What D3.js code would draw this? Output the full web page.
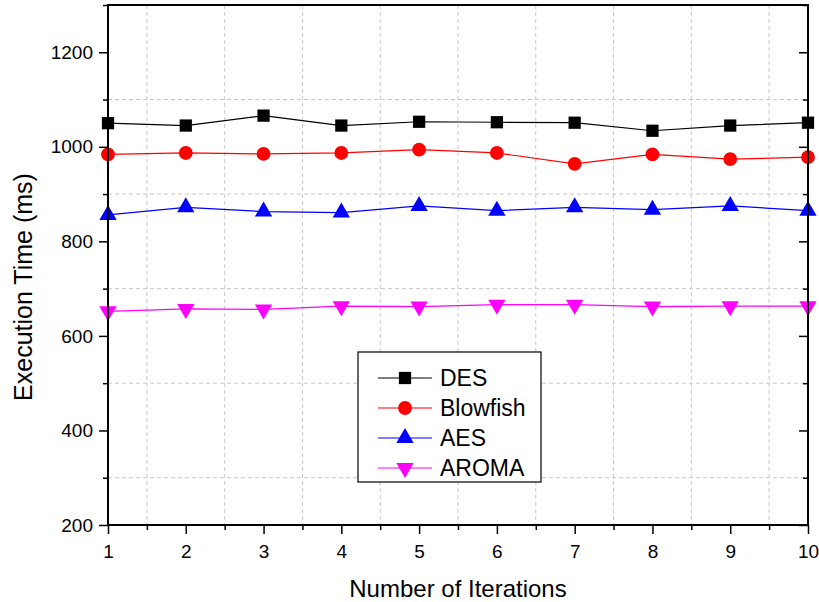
<!DOCTYPE html>
<html>
<head>
<meta charset="utf-8">
<script src="https://cdn.jsdelivr.net/npm/d3@7"></script>
<style>
  body { margin: 0; background: #fff; }
  svg { font-family: "Liberation Sans", Arial, sans-serif; }
</style>
</head>
<body>
<div id="chart"></div>
<script>
const iterations = [1, 2, 3, 4, 5, 6, 7, 8, 9, 10];
const desValues = [1050, 1045, 1066, 1045, 1053, 1052, 1051, 1034, 1045, 1051];
const blowfishValues = [984, 987, 985, 987, 994, 987, 964, 984, 974, 978];
const aesValues = [856, 872, 863, 861, 875, 865, 872, 867, 875, 865];
const aromaValues = [652, 657, 656, 663, 662, 666, 666, 662, 663, 663];
const yTicks = [200, 400, 600, 800, 1000, 1200];
const yMinor = [300, 500, 700, 900, 1100, 1300];
const xMinor = [1.5, 2.5, 3.5, 4.5, 5.5, 6.5, 7.5, 8.5, 9.5];

const seriesList = [
    { name: 'DES', values: desValues, color: '#000000', symbol: d3.symbolSquare, size: 150, rot: 0 },
    { name: 'Blowfish', values: blowfishValues, color: '#ff0000', symbol: d3.symbolCircle, size: 150, rot: 0 },
    { name: 'AES', values: aesValues, color: '#0000ff', symbol: d3.symbolTriangle, size: 130, rot: 0 },
    { name: 'AROMA', values: aromaValues, color: '#ff00ff', symbol: d3.symbolTriangle, size: 130, rot: 180 },
];

const W = 819, H = 602;
const margin = { top: 5, right: 11, bottom: 77, left: 108 };
const width = W - margin.left - margin.right;
const height = H - margin.top - margin.bottom;

const svg = d3.select('#chart').append('svg')
    .attr('width', W)
    .attr('height', H);

const g = svg.append('g')
    .attr('transform', 'translate(' + margin.left + ',' + margin.top + ')');

const x = d3.scaleLinear().domain([1, 10]).range([0, width]);
const y = d3.scaleLinear().domain([200, 1300]).range([height, 0]);

// dashed grid at minor positions
g.selectAll('.hgrid').data(yMinor.filter(v => v < 1300)).enter().append('line')
    .attr('x1', 0).attr('x2', width)
    .attr('y1', d => y(d)).attr('y2', d => y(d))
    .attr('stroke', '#c8c8c8').attr('stroke-dasharray', '4,3').attr('stroke-width', 1);
g.selectAll('.vgrid').data(xMinor).enter().append('line')
    .attr('y1', 0).attr('y2', height)
    .attr('x1', d => x(d)).attr('x2', d => x(d))
    .attr('stroke', '#c8c8c8').attr('stroke-dasharray', '4,3').attr('stroke-width', 1);

// series lines and markers
const line = d3.line().x((d, i) => x(iterations[i])).y(d => y(d));
seriesList.forEach(s => {
    g.append('path')
        .datum(s.values)
        .attr('fill', 'none')
        .attr('stroke', s.color)
        .attr('stroke-width', 1.2)
        .attr('d', line);
    g.selectAll('.m-' + s.name).data(s.values).enter().append('path')
        .attr('d', d3.symbol().type(s.symbol).size(s.size))
        .attr('fill', s.color)
        .attr('transform', (d, i) => 'translate(' + x(iterations[i]) + ',' + y(d) + ') rotate(' + s.rot + ')');
});

// axes
const axisFont = '19px';
const xAxis = g.append('g')
    .attr('transform', 'translate(0,' + height + ')')
    .call(d3.axisBottom(x).tickValues(iterations).tickSize(9).tickPadding(11).tickFormat(d3.format('d')));
xAxis.selectAll('text').attr('font-size', axisFont).attr('fill', '#000');
g.append('g')
    .attr('transform', 'translate(0,' + height + ')')
    .call(d3.axisBottom(x).tickValues(xMinor).tickSize(5).tickFormat(''));

const yAxis = g.append('g')
    .call(d3.axisLeft(y).tickValues(yTicks).tickSize(9).tickPadding(6).tickFormat(d3.format('d')));
yAxis.selectAll('text').attr('font-size', axisFont).attr('fill', '#000');
g.append('g').call(d3.axisLeft(y).tickValues(yMinor).tickSize(5).tickFormat(''));

// right axis with inward ticks
g.append('g')
    .attr('transform', 'translate(' + width + ',0)')
    .call(d3.axisLeft(y).tickValues(yTicks).tickSize(9).tickFormat(''));
g.append('g')
    .attr('transform', 'translate(' + width + ',0)')
    .call(d3.axisLeft(y).tickValues(yMinor).tickSize(5).tickFormat(''));

g.selectAll('.domain').remove();
g.selectAll('.tick line').attr('stroke', '#000').attr('stroke-width', 1.5);

// frame
g.append('rect')
    .attr('x', 0).attr('y', 0).attr('width', width).attr('height', height)
    .attr('fill', 'none').attr('stroke', '#000').attr('stroke-width', 2);

// axis titles
svg.append('text')
    .attr('x', 458)
    .attr('y', 597)
    .attr('text-anchor', 'middle')
    .attr('font-size', '24px')
    .text('Number of Iterations');
svg.append('text')
    .attr('transform', 'translate(32,287) rotate(-90)')
    .attr('text-anchor', 'middle')
    .attr('font-size', '25px')
    .text('Execution Time (ms)');

// legend
const legend = svg.append('g').attr('transform', 'translate(358,352)');
legend.append('rect')
    .attr('width', 183).attr('height', 130)
    .attr('fill', '#fff').attr('stroke', '#000').attr('stroke-width', 1.2);
seriesList.forEach((s, i) => {
    const ly = 26 + i * 30;
    legend.append('line')
        .attr('x1', 20).attr('x2', 74).attr('y1', ly).attr('y2', ly)
        .attr('stroke', s.color).attr('stroke-width', 1.2);
    legend.append('path')
        .attr('d', d3.symbol().type(s.symbol).size(s.size))
        .attr('fill', s.color)
        .attr('transform', 'translate(47,' + ly + ') rotate(' + s.rot + ')');
    legend.append('text')
        .attr('x', 82).attr('y', ly + 8)
        .attr('font-size', '23px')
        .text(s.name);
});
</script>
</body>
</html>
